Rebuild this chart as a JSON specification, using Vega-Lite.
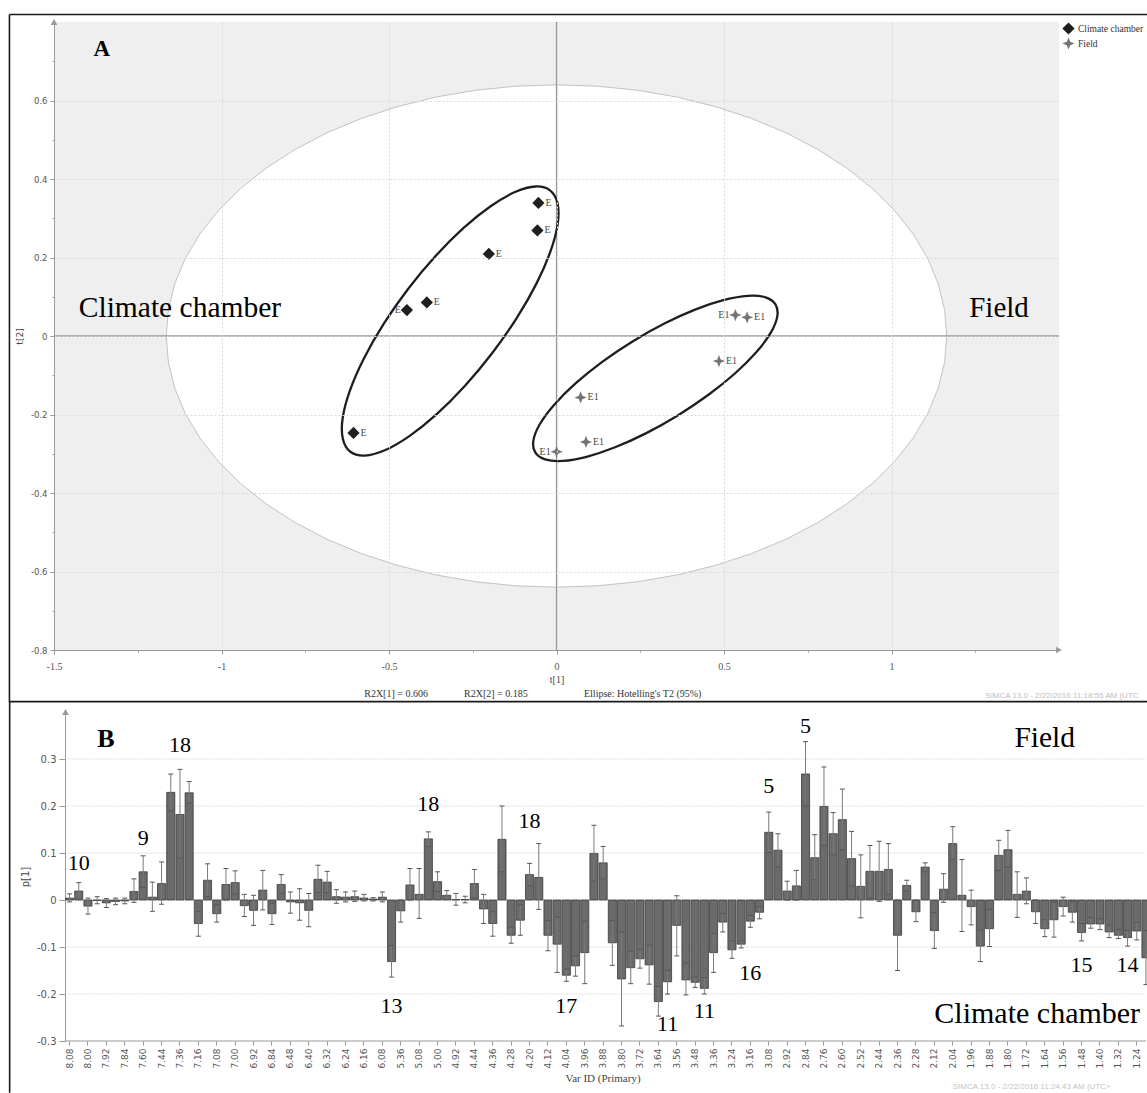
{
  "$schema": "https://vega.github.io/schema/vega-lite/v6.json",
  "background": "white",
  "padding": {"left": 8, "top": 13, "right": 0, "bottom": 0},
  "spacing": -4,
  "config": {"view": {"stroke": null}},
  "datasets": {
    "one": [{}],
    "grid": [{"g": 0.3}, {"g": 0.2}, {"g": 0.1}, {"g": 0}, {"g": -0.1}, {"g": -0.2}],
    "hot": [
      {"x": -1.165, "y": 0, "y2": 0},
      {"x": -1.1586, "y": 0.0669, "y2": -0.0669},
      {"x": -1.1395, "y": 0.1331, "y2": -0.1331},
      {"x": -1.108, "y": 0.1978, "y2": -0.1978},
      {"x": -1.0643, "y": 0.2603, "y2": -0.2603},
      {"x": -1.0089, "y": 0.32, "y2": -0.32},
      {"x": -0.9425, "y": 0.3762, "y2": -0.3762},
      {"x": -0.8657, "y": 0.4282, "y2": -0.4282},
      {"x": -0.7795, "y": 0.4756, "y2": -0.4756},
      {"x": -0.6848, "y": 0.5178, "y2": -0.5178},
      {"x": -0.5825, "y": 0.5543, "y2": -0.5543},
      {"x": -0.4738, "y": 0.5846, "y2": -0.5846},
      {"x": -0.36, "y": 0.6087, "y2": -0.6087},
      {"x": -0.2422, "y": 0.626, "y2": -0.626},
      {"x": -0.1217, "y": 0.6365, "y2": -0.6365},
      {"x": 0, "y": 0.64, "y2": -0.64},
      {"x": 0.1217, "y": 0.6365, "y2": -0.6365},
      {"x": 0.2422, "y": 0.626, "y2": -0.626},
      {"x": 0.36, "y": 0.6087, "y2": -0.6087},
      {"x": 0.4738, "y": 0.5846, "y2": -0.5846},
      {"x": 0.5825, "y": 0.5543, "y2": -0.5543},
      {"x": 0.6848, "y": 0.5178, "y2": -0.5178},
      {"x": 0.7795, "y": 0.4756, "y2": -0.4756},
      {"x": 0.8657, "y": 0.4282, "y2": -0.4282},
      {"x": 0.9425, "y": 0.3762, "y2": -0.3762},
      {"x": 1.0089, "y": 0.32, "y2": -0.32},
      {"x": 1.0643, "y": 0.2603, "y2": -0.2603},
      {"x": 1.108, "y": 0.1978, "y2": -0.1978},
      {"x": 1.1395, "y": 0.1331, "y2": -0.1331},
      {"x": 1.1586, "y": 0.0669, "y2": -0.0669},
      {"x": 1.165, "y": 0, "y2": 0}
    ],
    "ell": [
      {"grp": "Climate chamber", "t": 0, "x": -0.0194, "y": 0.3712},
      {"grp": "Climate chamber", "t": 15, "x": 0.0029, "y": 0.3387},
      {"grp": "Climate chamber", "t": 30, "x": 0.0036, "y": 0.2858},
      {"grp": "Climate chamber", "t": 45, "x": -0.0178, "y": 0.216},
      {"grp": "Climate chamber", "t": 60, "x": -0.0595, "y": 0.1341},
      {"grp": "Climate chamber", "t": 75, "x": -0.1189, "y": 0.0456},
      {"grp": "Climate chamber", "t": 90, "x": -0.1917, "y": -0.0434},
      {"grp": "Climate chamber", "t": 105, "x": -0.2731, "y": -0.1268},
      {"grp": "Climate chamber", "t": 120, "x": -0.3575, "y": -0.1991},
      {"grp": "Climate chamber", "t": 135, "x": -0.4392, "y": -0.255},
      {"grp": "Climate chamber", "t": 150, "x": -0.5126, "y": -0.2912},
      {"grp": "Climate chamber", "t": 165, "x": -0.5727, "y": -0.3047},
      {"grp": "Climate chamber", "t": 180, "x": -0.6154, "y": -0.295},
      {"grp": "Climate chamber", "t": 195, "x": -0.6377, "y": -0.2625},
      {"grp": "Climate chamber", "t": 210, "x": -0.6384, "y": -0.2096},
      {"grp": "Climate chamber", "t": 225, "x": -0.617, "y": -0.1398},
      {"grp": "Climate chamber", "t": 240, "x": -0.5753, "y": -0.0579},
      {"grp": "Climate chamber", "t": 255, "x": -0.5159, "y": 0.0306},
      {"grp": "Climate chamber", "t": 270, "x": -0.4431, "y": 0.1196},
      {"grp": "Climate chamber", "t": 285, "x": -0.3617, "y": 0.203},
      {"grp": "Climate chamber", "t": 300, "x": -0.2773, "y": 0.2753},
      {"grp": "Climate chamber", "t": 315, "x": -0.1956, "y": 0.3312},
      {"grp": "Climate chamber", "t": 330, "x": -0.1222, "y": 0.3674},
      {"grp": "Climate chamber", "t": 345, "x": -0.0621, "y": 0.3809},
      {"grp": "Field", "t": 0, "x": 0.6537, "y": 0.0807},
      {"grp": "Field", "t": 15, "x": 0.6591, "y": 0.05},
      {"grp": "Field", "t": 30, "x": 0.6397, "y": 0.0084},
      {"grp": "Field", "t": 45, "x": 0.5969, "y": -0.0409},
      {"grp": "Field", "t": 60, "x": 0.5334, "y": -0.0949},
      {"grp": "Field", "t": 75, "x": 0.4537, "y": -0.1498},
      {"grp": "Field", "t": 90, "x": 0.3632, "y": -0.2018},
      {"grp": "Field", "t": 105, "x": 0.2681, "y": -0.2474},
      {"grp": "Field", "t": 120, "x": 0.1748, "y": -0.2835},
      {"grp": "Field", "t": 135, "x": 0.0897, "y": -0.3077},
      {"grp": "Field", "t": 150, "x": 0.0187, "y": -0.3182},
      {"grp": "Field", "t": 165, "x": -0.0337, "y": -0.3144},
      {"grp": "Field", "t": 180, "x": -0.0635, "y": -0.2965},
      {"grp": "Field", "t": 195, "x": -0.0689, "y": -0.2658},
      {"grp": "Field", "t": 210, "x": -0.0495, "y": -0.2242},
      {"grp": "Field", "t": 225, "x": -0.0067, "y": -0.1749},
      {"grp": "Field", "t": 240, "x": 0.0568, "y": -0.1209},
      {"grp": "Field", "t": 255, "x": 0.1365, "y": -0.066},
      {"grp": "Field", "t": 270, "x": 0.227, "y": -0.014},
      {"grp": "Field", "t": 285, "x": 0.3221, "y": 0.0316},
      {"grp": "Field", "t": 300, "x": 0.4154, "y": 0.0677},
      {"grp": "Field", "t": 315, "x": 0.5005, "y": 0.0919},
      {"grp": "Field", "t": 330, "x": 0.5715, "y": 0.1024},
      {"grp": "Field", "t": 345, "x": 0.6239, "y": 0.0986}
    ],
    "pts": [
      {"grp": "Climate chamber", "x": -0.054, "y": 0.339, "lab": "E", "side": "r"},
      {"grp": "Climate chamber", "x": -0.057, "y": 0.269, "lab": "E", "side": "r"},
      {"grp": "Climate chamber", "x": -0.202, "y": 0.209, "lab": "E", "side": "r"},
      {"grp": "Climate chamber", "x": -0.387, "y": 0.0855, "lab": "E", "side": "r"},
      {"grp": "Climate chamber", "x": -0.4465, "y": 0.066, "lab": "E", "side": "l"},
      {"grp": "Climate chamber", "x": -0.606, "y": -0.247, "lab": "E", "side": "r"},
      {"grp": "Field", "x": 0.534, "y": 0.0533, "lab": "E1", "side": "l"},
      {"grp": "Field", "x": 0.569, "y": 0.0475, "lab": "E1", "side": "r"},
      {"grp": "Field", "x": 0.485, "y": -0.064, "lab": "E1", "side": "r"},
      {"grp": "Field", "x": 0.072, "y": -0.1566, "lab": "E1", "side": "r"},
      {"grp": "Field", "x": 0.088, "y": -0.27, "lab": "E1", "side": "r"},
      {"grp": "Field", "x": 0.0006, "y": -0.295, "lab": "E1", "side": "l"}
    ],
    "bars": [
      {"id": "8.08", "v": 0.004, "lo": -0.004, "hi": 0.013},
      {"id": "8.04", "v": 0.019, "lo": 0.002, "hi": 0.037},
      {"id": "8.00", "v": -0.013, "lo": -0.03, "hi": 0.004},
      {"id": "7.96", "v": -0.001, "lo": -0.008, "hi": 0.007},
      {"id": "7.92", "v": -0.006, "lo": -0.016, "hi": 0.003},
      {"id": "7.88", "v": -0.003, "lo": -0.01, "hi": 0.004},
      {"id": "7.84", "v": -0.002, "lo": -0.008, "hi": 0.004},
      {"id": "7.68", "v": 0.018, "lo": -0.005, "hi": 0.045},
      {"id": "7.60", "v": 0.06, "lo": 0.027, "hi": 0.094},
      {"id": "7.52", "v": 0.006, "lo": -0.024, "hi": 0.038},
      {"id": "7.44", "v": 0.035, "lo": -0.009, "hi": 0.081},
      {"id": "7.40", "v": 0.229, "lo": 0.19, "hi": 0.268},
      {"id": "7.36", "v": 0.182, "lo": 0.089, "hi": 0.278},
      {"id": "7.28", "v": 0.228, "lo": 0.206, "hi": 0.252},
      {"id": "7.16", "v": -0.05, "lo": -0.077, "hi": -0.025},
      {"id": "7.12", "v": 0.042, "lo": 0.007, "hi": 0.077},
      {"id": "7.08", "v": -0.029, "lo": -0.047, "hi": -0.01},
      {"id": "7.04", "v": 0.033, "lo": 0.0, "hi": 0.067},
      {"id": "7.00", "v": 0.037, "lo": 0.013, "hi": 0.062},
      {"id": "6.96", "v": -0.012, "lo": -0.035, "hi": 0.012},
      {"id": "6.92", "v": -0.022, "lo": -0.054, "hi": 0.01},
      {"id": "6.88", "v": 0.021, "lo": -0.021, "hi": 0.063},
      {"id": "6.84", "v": -0.029, "lo": -0.052, "hi": -0.007},
      {"id": "6.56", "v": 0.033, "lo": 0.014, "hi": 0.054},
      {"id": "6.48", "v": -0.004, "lo": -0.028, "hi": 0.017},
      {"id": "6.44", "v": -0.006, "lo": -0.043, "hi": 0.024},
      {"id": "6.40", "v": -0.022, "lo": -0.057, "hi": 0.014},
      {"id": "6.36", "v": 0.044, "lo": 0.016, "hi": 0.074},
      {"id": "6.32", "v": 0.038, "lo": 0.016, "hi": 0.061},
      {"id": "6.28", "v": 0.007, "lo": -0.007, "hi": 0.022},
      {"id": "6.24", "v": 0.006, "lo": -0.004, "hi": 0.017},
      {"id": "6.20", "v": 0.007, "lo": -0.003, "hi": 0.019},
      {"id": "6.16", "v": 0.004, "lo": -0.002, "hi": 0.012},
      {"id": "6.12", "v": 0.002, "lo": -0.002, "hi": 0.005},
      {"id": "6.08", "v": 0.006, "lo": -0.004, "hi": 0.017},
      {"id": "5.40", "v": -0.131, "lo": -0.164, "hi": -0.097},
      {"id": "5.36", "v": -0.023, "lo": -0.047, "hi": 0.0},
      {"id": "5.20", "v": 0.032, "lo": 0.0, "hi": 0.067},
      {"id": "5.08", "v": 0.012, "lo": -0.039, "hi": 0.067},
      {"id": "5.04", "v": 0.13, "lo": 0.114, "hi": 0.145},
      {"id": "5.00", "v": 0.039, "lo": 0.018, "hi": 0.06},
      {"id": "4.96", "v": 0.01, "lo": 0.001, "hi": 0.02},
      {"id": "4.92", "v": 0.001, "lo": -0.011, "hi": 0.014},
      {"id": "4.48", "v": 0.001, "lo": -0.006, "hi": 0.008},
      {"id": "4.44", "v": 0.035, "lo": 0.005, "hi": 0.065},
      {"id": "4.40", "v": -0.019, "lo": -0.05, "hi": 0.012},
      {"id": "4.36", "v": -0.05, "lo": -0.077, "hi": -0.025},
      {"id": "4.32", "v": 0.129, "lo": 0.06, "hi": 0.2},
      {"id": "4.28", "v": -0.075, "lo": -0.092, "hi": -0.058},
      {"id": "4.24", "v": -0.043, "lo": -0.075, "hi": -0.01},
      {"id": "4.20", "v": 0.054, "lo": 0.03, "hi": 0.078},
      {"id": "4.16", "v": 0.048, "lo": -0.02, "hi": 0.12},
      {"id": "4.12", "v": -0.075, "lo": -0.108, "hi": -0.044},
      {"id": "4.08", "v": -0.094, "lo": -0.154, "hi": -0.036},
      {"id": "4.04", "v": -0.16, "lo": -0.173, "hi": -0.147},
      {"id": "4.00", "v": -0.14, "lo": -0.162, "hi": -0.119},
      {"id": "3.96", "v": -0.112, "lo": -0.178, "hi": -0.045},
      {"id": "3.92", "v": 0.099, "lo": 0.04, "hi": 0.159},
      {"id": "3.88", "v": 0.079, "lo": 0.045, "hi": 0.114},
      {"id": "3.84", "v": -0.091, "lo": -0.139, "hi": -0.044},
      {"id": "3.80", "v": -0.168, "lo": -0.268, "hi": -0.068},
      {"id": "3.76", "v": -0.144, "lo": -0.178, "hi": -0.109},
      {"id": "3.72", "v": -0.125, "lo": -0.145, "hi": -0.105},
      {"id": "3.68", "v": -0.138, "lo": -0.179, "hi": -0.096},
      {"id": "3.64", "v": -0.216, "lo": -0.247, "hi": -0.184},
      {"id": "3.60", "v": -0.174, "lo": -0.2, "hi": -0.15},
      {"id": "3.56", "v": -0.054, "lo": -0.119, "hi": 0.009},
      {"id": "3.52", "v": -0.17, "lo": -0.202, "hi": -0.134},
      {"id": "3.48", "v": -0.175, "lo": -0.186, "hi": -0.164},
      {"id": "3.40", "v": -0.188, "lo": -0.2, "hi": -0.165},
      {"id": "3.36", "v": -0.112, "lo": -0.154, "hi": -0.071},
      {"id": "3.32", "v": -0.047, "lo": -0.068, "hi": -0.029},
      {"id": "3.24", "v": -0.106, "lo": -0.124, "hi": -0.087},
      {"id": "3.20", "v": -0.094, "lo": -0.102, "hi": -0.087},
      {"id": "3.16", "v": -0.045, "lo": -0.058, "hi": -0.033},
      {"id": "3.12", "v": -0.026, "lo": -0.04, "hi": -0.014},
      {"id": "3.08", "v": 0.144, "lo": 0.101, "hi": 0.187},
      {"id": "3.00", "v": 0.106, "lo": 0.07, "hi": 0.141},
      {"id": "2.92", "v": 0.019, "lo": 0.0, "hi": 0.04},
      {"id": "2.88", "v": 0.03, "lo": 0.0, "hi": 0.063},
      {"id": "2.84", "v": 0.268, "lo": 0.2, "hi": 0.337},
      {"id": "2.80", "v": 0.09, "lo": 0.043, "hi": 0.139},
      {"id": "2.76", "v": 0.199, "lo": 0.116, "hi": 0.283},
      {"id": "2.68", "v": 0.141, "lo": 0.096, "hi": 0.186},
      {"id": "2.60", "v": 0.171, "lo": 0.107, "hi": 0.236},
      {"id": "2.56", "v": 0.088, "lo": 0.03, "hi": 0.146},
      {"id": "2.52", "v": 0.029, "lo": -0.038, "hi": 0.096},
      {"id": "2.48", "v": 0.061, "lo": 0.005, "hi": 0.116},
      {"id": "2.44", "v": 0.061, "lo": -0.003, "hi": 0.125},
      {"id": "2.40", "v": 0.065, "lo": 0.012, "hi": 0.12},
      {"id": "2.36", "v": -0.075, "lo": -0.15, "hi": 0.0},
      {"id": "2.32", "v": 0.031, "lo": 0.019, "hi": 0.042},
      {"id": "2.28", "v": -0.025, "lo": -0.046, "hi": 0.0},
      {"id": "2.20", "v": 0.07, "lo": 0.06, "hi": 0.079},
      {"id": "2.12", "v": -0.065, "lo": -0.103, "hi": -0.027},
      {"id": "2.08", "v": 0.023, "lo": -0.005, "hi": 0.056},
      {"id": "2.04", "v": 0.12, "lo": 0.087, "hi": 0.156},
      {"id": "2.00", "v": 0.01, "lo": -0.067, "hi": 0.086},
      {"id": "1.96", "v": -0.014, "lo": -0.053, "hi": 0.021},
      {"id": "1.92", "v": -0.098, "lo": -0.131, "hi": -0.064},
      {"id": "1.88", "v": -0.061, "lo": -0.099, "hi": -0.02},
      {"id": "1.84", "v": 0.095, "lo": 0.063, "hi": 0.127},
      {"id": "1.80", "v": 0.107, "lo": 0.07, "hi": 0.148},
      {"id": "1.76", "v": 0.012, "lo": -0.037, "hi": 0.06},
      {"id": "1.72", "v": 0.019, "lo": -0.008, "hi": 0.047},
      {"id": "1.68", "v": -0.025, "lo": -0.05, "hi": 0.0},
      {"id": "1.64", "v": -0.061, "lo": -0.078, "hi": -0.042},
      {"id": "1.60", "v": -0.042, "lo": -0.079, "hi": -0.005},
      {"id": "1.56", "v": -0.014, "lo": -0.034, "hi": 0.006},
      {"id": "1.52", "v": -0.026, "lo": -0.047, "hi": -0.004},
      {"id": "1.48", "v": -0.069, "lo": -0.087, "hi": -0.05},
      {"id": "1.44", "v": -0.051, "lo": -0.06, "hi": -0.037},
      {"id": "1.40", "v": -0.051, "lo": -0.063, "hi": -0.04},
      {"id": "1.36", "v": -0.068, "lo": -0.08, "hi": -0.053},
      {"id": "1.32", "v": -0.075, "lo": -0.082, "hi": -0.063},
      {"id": "1.28", "v": -0.08, "lo": -0.098, "hi": -0.065},
      {"id": "1.24", "v": -0.066, "lo": -0.085, "hi": -0.048},
      {"id": "1.20", "v": -0.123, "lo": -0.18, "hi": -0.065}
    ]
  },
  "vconcat": [
    {
      "width": 1005,
      "height": 628,
      "view": {"fill": "#efefef", "stroke": null},
      "layer": [
        {
          "data": {"name": "hot"},
          "mark": {"type": "area", "fill": "#ffffff", "stroke": "#c2c2c2", "strokeWidth": 1, "interpolate": "linear"},
          "encoding": {
            "x": {
              "field": "x", "type": "quantitative",
              "scale": {"domain": [-1.5, 1.5], "nice": false, "zero": false},
              "axis": {
                "title": "t[1]",
                "values": [-1.5, -1.25, -1, -0.75, -0.5, -0.25, 0, 0.25, 0.5, 0.75, 1, 1.25],
                "labelExpr": "abs(datum.value*2-round(datum.value*2))>0.01 ? '' : (datum.value < 0 ? '-' : '') + format(abs(datum.value), '.1~f')",
                "labelOverlap": false,
                "labelFlush": false,
                "grid": true,
                "gridColor": "#d8d8d8",
                "gridDash": [2, 2],
                "gridOpacity": {"condition": {"test": "abs(datum.value*2-round(datum.value*2))>0.01", "value": 0}, "value": 1},
                "tickSize": {"condition": {"test": "abs(datum.value*2-round(datum.value*2))>0.01", "value": 2}, "value": 4},
                "tickColor": "#999999",
                "domainColor": "#999999",
                "labelFont": "Liberation Serif",
                "labelFontSize": 10,
                "labelColor": "#555555",
                "labelPadding": 7,
                "titleFont": "Liberation Serif",
                "titleFontSize": 10,
                "titleFontWeight": "normal",
                "titleColor": "#444444",
                "titlePadding": 3,
                "zindex": 1
              }
            },
            "y": {
              "field": "y", "type": "quantitative",
              "scale": {"domain": [-0.8, 0.8], "nice": false, "zero": false},
              "axis": {
                "title": "t[2]",
                "values": [-0.8, -0.7, -0.6, -0.5, -0.4, -0.3, -0.2, -0.1, 0, 0.1, 0.2, 0.3, 0.4, 0.5, 0.6, 0.7],
                "labelExpr": "abs(datum.value*5-round(datum.value*5))>0.01 ? '' : (datum.value < 0 ? '-' : '') + format(abs(datum.value), '.1~f')",
                "labelOverlap": false,
                "labelFlush": false,
                "grid": true,
                "gridColor": "#d8d8d8",
                "gridDash": [2, 2],
                "gridOpacity": {"condition": {"test": "abs(datum.value*5-round(datum.value*5))>0.01", "value": 0}, "value": 1},
                "tickSize": {"condition": {"test": "abs(datum.value*5-round(datum.value*5))>0.01", "value": 2}, "value": 4},
                "tickColor": "#999999",
                "domainColor": "#999999",
                "labelFont": "DejaVu Sans",
                "labelFontSize": 8.5,
                "labelColor": "#555555",
                "labelPadding": 3,
                "titleFont": "DejaVu Sans",
                "titleFontSize": 9,
                "titleFontWeight": "normal",
                "titleColor": "#444444",
                "titlePadding": 6,
                "zindex": 1
              }
            },
            "y2": {"field": "y2"}
          }
        },
        {
          "data": {"name": "one"},
          "mark": {"type": "rule", "color": "#9a9a9a", "strokeWidth": 1.3},
          "encoding": {"x": {"datum": 0, "type": "quantitative"}}
        },
        {
          "data": {"name": "one"},
          "mark": {"type": "rule", "color": "#9a9a9a", "strokeWidth": 1.3},
          "encoding": {"y": {"datum": 0, "type": "quantitative"}}
        },
        {
          "data": {"name": "one"},
          "mark": {"type": "rule", "color": "#1a1a1a", "strokeWidth": 1.6},
          "encoding": {"x": {"datum": -1.633, "type": "quantitative"}, "x2": {"datum": 1.78}, "y": {"datum": 0.819, "type": "quantitative"}}
        },
        {
          "data": {"name": "one"},
          "mark": {"type": "rule", "color": "#1a1a1a", "strokeWidth": 1.6},
          "encoding": {"x": {"datum": -1.633, "type": "quantitative"}, "y": {"datum": 0.819, "type": "quantitative"}, "y2": {"datum": -0.933}}
        },
        {
          "data": {"name": "ell"},
          "mark": {"type": "line", "color": "#1e1e1e", "strokeWidth": 2.3, "interpolate": "cardinal-closed"},
          "encoding": {
            "x": {"field": "x", "type": "quantitative"},
            "y": {"field": "y", "type": "quantitative"},
            "detail": {"field": "grp"},
            "order": {"field": "t", "type": "quantitative"}
          }
        },
        {
          "data": {"name": "pts"},
          "mark": {"type": "point", "filled": true, "size": 150, "opacity": 1},
          "encoding": {
            "x": {"field": "x", "type": "quantitative"},
            "y": {"field": "y", "type": "quantitative"},
            "color": {
              "field": "grp", "type": "nominal",
              "scale": {"domain": ["Climate chamber", "Field"], "range": ["#1f1f1f", "#737373"]},
              "legend": {
                "title": null,
                "orient": "none",
                "legendX": 1008,
                "legendY": 0,
                "padding": 0,
                "symbolType": "square",
                "symbolSize": 150,
                "symbolStrokeWidth": 0,
                "symbolOpacity": 1,
                "labelFont": "Liberation Serif",
                "labelFontSize": 9.5,
                "labelColor": "#333333",
                "labelOffset": 3,
                "rowPadding": 2
              }
            },
            "shape": {
              "field": "grp", "type": "nominal",
              "scale": {"domain": ["Climate chamber", "Field"], "range": ["diamond", "M0,-1L0.28,-0.28L1,0L0.28,0.28L0,1L-0.28,0.28L-1,0L-0.28,-0.28Z"]},
              "legend": null
            }
          }
        },
        {
          "data": {"name": "pts"},
          "transform": [{"filter": "datum.side == 'r'"}],
          "mark": {"type": "text", "align": "left", "baseline": "middle", "dx": 7, "font": "Liberation Serif", "fontSize": 10, "color": "#4a4a4a"},
          "encoding": {
            "x": {"field": "x", "type": "quantitative"},
            "y": {"field": "y", "type": "quantitative"},
            "text": {"field": "lab"}
          }
        },
        {
          "data": {"name": "pts"},
          "transform": [{"filter": "datum.side == 'l'"}],
          "mark": {"type": "text", "align": "right", "baseline": "middle", "dx": -6, "font": "Liberation Serif", "fontSize": 10, "color": "#4a4a4a"},
          "encoding": {
            "x": {"field": "x", "type": "quantitative"},
            "y": {"field": "y", "type": "quantitative"},
            "text": {"field": "lab"}
          }
        },
        {
          "data": {"name": "one"},
          "mark": {"type": "point", "shape": "triangle-up", "filled": true, "color": "#999999", "size": 45, "opacity": 1},
          "encoding": {"x": {"datum": -1.5, "type": "quantitative"}, "y": {"datum": 0.8, "type": "quantitative"}}
        },
        {
          "data": {"name": "one"},
          "mark": {"type": "point", "shape": "triangle-right", "filled": true, "color": "#999999", "size": 45, "opacity": 1},
          "encoding": {"x": {"datum": 1.5, "type": "quantitative"}, "y": {"datum": -0.8, "type": "quantitative"}}
        },
        {
          "data": {"name": "one"},
          "mark": {"type": "text", "text": "A", "align": "left", "baseline": "alphabetic", "font": "Liberation Serif", "fontSize": 23, "fontWeight": "bold", "color": "#000000"},
          "encoding": {"x": {"datum": -1.382, "type": "quantitative"}, "y": {"datum": 0.713, "type": "quantitative"}}
        },
        {
          "data": {"name": "one"},
          "mark": {"type": "text", "text": "Climate chamber", "align": "left", "baseline": "alphabetic", "font": "Liberation Serif", "fontSize": 29.5, "color": "#000000"},
          "encoding": {"x": {"datum": -1.426, "type": "quantitative"}, "y": {"datum": 0.048, "type": "quantitative"}}
        },
        {
          "data": {"name": "one"},
          "mark": {"type": "text", "text": "Field", "align": "left", "baseline": "alphabetic", "font": "Liberation Serif", "fontSize": 29, "color": "#000000"},
          "encoding": {"x": {"datum": 1.232, "type": "quantitative"}, "y": {"datum": 0.048, "type": "quantitative"}}
        },
        {
          "data": {"name": "one"},
          "mark": {"type": "text", "text": "R2X[1] = 0.606", "align": "left", "baseline": "middle", "dy": 44, "font": "Liberation Serif", "fontSize": 10, "color": "#333333"},
          "encoding": {"x": {"datum": -0.574, "type": "quantitative"}, "y": {"datum": -0.8, "type": "quantitative"}}
        },
        {
          "data": {"name": "one"},
          "mark": {"type": "text", "text": "R2X[2] = 0.185", "align": "left", "baseline": "middle", "dy": 44, "font": "Liberation Serif", "fontSize": 10, "color": "#333333"},
          "encoding": {"x": {"datum": -0.276, "type": "quantitative"}, "y": {"datum": -0.8, "type": "quantitative"}}
        },
        {
          "data": {"name": "one"},
          "mark": {"type": "text", "text": "Ellipse: Hotelling's T2 (95%)", "align": "left", "baseline": "middle", "dy": 44, "font": "Liberation Serif", "fontSize": 10, "color": "#333333"},
          "encoding": {"x": {"datum": 0.082, "type": "quantitative"}, "y": {"datum": -0.8, "type": "quantitative"}}
        },
        {
          "data": {"name": "one"},
          "mark": {"type": "text", "text": "SIMCA 13.0 - 2/22/2016 11:18:55 AM (UTC", "align": "left", "baseline": "middle", "dy": 46, "font": "Liberation Sans", "fontSize": 8, "color": "#bdbdbd"},
          "encoding": {"x": {"datum": 1.28, "type": "quantitative"}, "y": {"datum": -0.8, "type": "quantitative"}}
        }
      ]
    },
    {
      "width": 1097,
      "height": 329,
      "layer": [
        {
          "data": {"name": "grid"},
          "mark": {"type": "rule", "color": "#dedede", "strokeWidth": 1, "strokeDash": [2, 1]},
          "encoding": {
            "x": {
              "datum": "8.08", "type": "nominal", "bandPosition": 0,
              "scale": {
                "domain": ["8.08","8.04","8.00","7.96","7.92","7.88","7.84","7.68","7.60","7.52","7.44","7.40","7.36","7.28","7.16","7.12","7.08","7.04","7.00","6.96","6.92","6.88","6.84","6.56","6.48","6.44","6.40","6.36","6.32","6.28","6.24","6.20","6.16","6.12","6.08","5.40","5.36","5.20","5.08","5.04","5.00","4.96","4.92","4.48","4.44","4.40","4.36","4.32","4.28","4.24","4.20","4.16","4.12","4.08","4.04","4.00","3.96","3.92","3.88","3.84","3.80","3.76","3.72","3.68","3.64","3.60","3.56","3.52","3.48","3.40","3.36","3.32","3.24","3.20","3.16","3.12","3.08","3.00","2.92","2.88","2.84","2.80","2.76","2.68","2.60","2.56","2.52","2.48","2.44","2.40","2.36","2.32","2.28","2.20","2.12","2.08","2.04","2.00","1.96","1.92","1.88","1.84","1.80","1.76","1.72","1.68","1.64","1.60","1.56","1.52","1.48","1.44","1.40","1.36","1.32","1.28","1.24","1.20"],
                "paddingInner": 0.12,
                "paddingOuter": 0.68,
                "align": 0.92
              },
              "axis": {
                "title": "Var ID (Primary)",
                "values": ["8.08","8.00","7.92","7.84","7.60","7.44","7.36","7.16","7.08","7.00","6.92","6.84","6.48","6.40","6.32","6.24","6.16","6.08","5.36","5.08","5.00","4.92","4.44","4.36","4.28","4.20","4.12","4.04","3.96","3.88","3.80","3.72","3.64","3.56","3.48","3.36","3.24","3.16","3.08","2.92","2.84","2.76","2.60","2.52","2.44","2.36","2.28","2.12","2.04","1.96","1.88","1.80","1.72","1.64","1.56","1.48","1.40","1.32","1.24"],
                "domain": false,
                "labelAngle": 270,
                "labelOverlap": false,
                "labelFont": "DejaVu Sans",
                "labelFontSize": 9,
                "labelColor": "#555555",
                "labelPadding": 3,
                "tickSize": 4,
                "tickColor": "#999999",
                "titleFont": "Liberation Serif",
                "titleFontSize": 11,
                "titleFontWeight": "normal",
                "titleColor": "#444444",
                "titlePadding": 4
              }
            },
            "x2": {"datum": "1.20"},
            "y": {
              "field": "g", "type": "quantitative",
              "scale": {"domain": [-0.3, 0.4], "nice": false},
              "axis": {
                "title": "p[1]",
                "offset": -11,
                "values": [-0.3, -0.25, -0.2, -0.15, -0.1, -0.05, 0, 0.05, 0.1, 0.15, 0.2, 0.25, 0.3, 0.35],
                "labelExpr": "abs(datum.value*10-round(datum.value*10))>0.01 ? '' : (datum.value < 0 ? '-' : '') + format(abs(datum.value), '.1~f')",
                "labelOverlap": false,
                "labelFlush": false,
                "grid": false,
                "tickSize": {"condition": {"test": "abs(datum.value*10-round(datum.value*10))>0.01", "value": 3}, "value": 6},
                "tickColor": "#999999",
                "domainColor": "#999999",
                "labelFont": "DejaVu Sans",
                "labelFontSize": 10,
                "labelColor": "#555555",
                "labelPadding": 3,
                "titleFont": "DejaVu Sans",
                "titleFontSize": 10,
                "titleFontWeight": "normal",
                "titleColor": "#444444",
                "titlePadding": 6
              }
            }
          }
        },
        {
          "data": {"name": "one"},
          "mark": {"type": "rule", "color": "#999999", "strokeWidth": 1},
          "encoding": {
            "x": {"datum": "8.08", "type": "nominal", "bandPosition": 0},
            "x2": {"datum": "1.20"},
            "y": {"datum": -0.3, "type": "quantitative"}
          }
        },
        {
          "data": {"name": "one"},
          "mark": {"type": "rule", "color": "#1a1a1a", "strokeWidth": 1.6},
          "encoding": {
            "x": {"datum": "8.08", "type": "nominal", "bandPosition": -6.9},
            "x2": {"datum": "1.20", "bandPosition": 1.1},
            "y": {"datum": 0.422, "type": "quantitative"}
          }
        },
        {
          "data": {"name": "one"},
          "mark": {"type": "rule", "color": "#1a1a1a", "strokeWidth": 1.6},
          "encoding": {
            "x": {"datum": "8.08", "type": "nominal", "bandPosition": -6.9},
            "y": {"datum": 0.422, "type": "quantitative"},
            "y2": {"datum": -0.41}
          }
        },
        {
          "data": {"name": "bars"},
          "mark": {"type": "bar", "fill": "#6b6b6b", "stroke": "#3a3a3a", "strokeWidth": 0.8},
          "encoding": {
            "x": {"field": "id", "type": "nominal", "sort": null},
            "y": {"field": "v", "type": "quantitative"}
          }
        },
        {
          "data": {"name": "bars"},
          "mark": {"type": "rule", "color": "#7a7a7a", "strokeWidth": 1},
          "encoding": {
            "x": {"field": "id", "type": "nominal"},
            "y": {"field": "lo", "type": "quantitative"},
            "y2": {"field": "hi"}
          }
        },
        {
          "data": {"name": "bars"},
          "mark": {"type": "tick", "color": "#555555", "thickness": 1, "size": 5, "opacity": 1},
          "encoding": {
            "x": {"field": "id", "type": "nominal"},
            "y": {"field": "lo", "type": "quantitative"}
          }
        },
        {
          "data": {"name": "bars"},
          "mark": {"type": "tick", "color": "#555555", "thickness": 1, "size": 5, "opacity": 1},
          "encoding": {
            "x": {"field": "id", "type": "nominal"},
            "y": {"field": "hi", "type": "quantitative"}
          }
        },
        {
          "data": {"name": "one"},
          "mark": {"type": "point", "shape": "triangle-up", "filled": true, "color": "#999999", "size": 45, "opacity": 1},
          "encoding": {"x": {"datum": "8.08", "type": "nominal", "bandPosition": 0}, "y": {"datum": 0.4, "type": "quantitative"}}
        },
        {
          "data": {"name": "one"},
          "mark": {"type": "text", "text": "B", "align": "left", "baseline": "alphabetic", "font": "Liberation Serif", "fontSize": 26, "fontWeight": "bold", "color": "#000000"},
          "encoding": {"x": {"datum": "7.96", "type": "nominal"}, "y": {"datum": 0.326, "type": "quantitative"}}
        },
        {
          "data": {"name": "one"},
          "mark": {"type": "text", "text": "10", "align": "center", "baseline": "alphabetic", "font": "Liberation Serif", "fontSize": 22, "color": "#000000"},
          "encoding": {"x": {"datum": "8.04", "type": "nominal"}, "y": {"datum": 0.064, "type": "quantitative"}}
        },
        {
          "data": {"name": "one"},
          "mark": {"type": "text", "text": "9", "align": "center", "baseline": "alphabetic", "font": "Liberation Serif", "fontSize": 22, "color": "#000000"},
          "encoding": {"x": {"datum": "7.60", "type": "nominal"}, "y": {"datum": 0.117, "type": "quantitative"}}
        },
        {
          "data": {"name": "one"},
          "mark": {"type": "text", "text": "18", "align": "center", "baseline": "alphabetic", "font": "Liberation Serif", "fontSize": 22, "color": "#000000"},
          "encoding": {"x": {"datum": "7.36", "type": "nominal"}, "y": {"datum": 0.3155, "type": "quantitative"}}
        },
        {
          "data": {"name": "one"},
          "mark": {"type": "text", "text": "13", "align": "center", "baseline": "alphabetic", "font": "Liberation Serif", "fontSize": 22, "color": "#000000"},
          "encoding": {"x": {"datum": "5.40", "type": "nominal"}, "y": {"datum": -0.24, "type": "quantitative"}}
        },
        {
          "data": {"name": "one"},
          "mark": {"type": "text", "text": "18", "align": "center", "baseline": "alphabetic", "font": "Liberation Serif", "fontSize": 22, "color": "#000000"},
          "encoding": {"x": {"datum": "5.04", "type": "nominal"}, "y": {"datum": 0.19, "type": "quantitative"}}
        },
        {
          "data": {"name": "one"},
          "mark": {"type": "text", "text": "18", "align": "center", "baseline": "alphabetic", "font": "Liberation Serif", "fontSize": 22, "color": "#000000"},
          "encoding": {"x": {"datum": "4.20", "type": "nominal"}, "y": {"datum": 0.1525, "type": "quantitative"}}
        },
        {
          "data": {"name": "one"},
          "mark": {"type": "text", "text": "17", "align": "center", "baseline": "alphabetic", "font": "Liberation Serif", "fontSize": 22, "color": "#000000"},
          "encoding": {"x": {"datum": "4.04", "type": "nominal"}, "y": {"datum": -0.241, "type": "quantitative"}}
        },
        {
          "data": {"name": "one"},
          "mark": {"type": "text", "text": "11", "align": "center", "baseline": "alphabetic", "font": "Liberation Serif", "fontSize": 22, "color": "#000000"},
          "encoding": {"x": {"datum": "3.60", "type": "nominal"}, "y": {"datum": -0.278, "type": "quantitative"}}
        },
        {
          "data": {"name": "one"},
          "mark": {"type": "text", "text": "11", "align": "center", "baseline": "alphabetic", "font": "Liberation Serif", "fontSize": 22, "color": "#000000"},
          "encoding": {"x": {"datum": "3.40", "type": "nominal"}, "y": {"datum": -0.252, "type": "quantitative"}}
        },
        {
          "data": {"name": "one"},
          "mark": {"type": "text", "text": "16", "align": "center", "baseline": "alphabetic", "font": "Liberation Serif", "fontSize": 22, "color": "#000000"},
          "encoding": {"x": {"datum": "3.16", "type": "nominal"}, "y": {"datum": -0.17, "type": "quantitative"}}
        },
        {
          "data": {"name": "one"},
          "mark": {"type": "text", "text": "5", "align": "center", "baseline": "alphabetic", "font": "Liberation Serif", "fontSize": 22, "color": "#000000"},
          "encoding": {"x": {"datum": "3.08", "type": "nominal"}, "y": {"datum": 0.227, "type": "quantitative"}}
        },
        {
          "data": {"name": "one"},
          "mark": {"type": "text", "text": "5", "align": "center", "baseline": "alphabetic", "font": "Liberation Serif", "fontSize": 22, "color": "#000000"},
          "encoding": {"x": {"datum": "2.84", "type": "nominal"}, "y": {"datum": 0.3546, "type": "quantitative"}}
        },
        {
          "data": {"name": "one"},
          "mark": {"type": "text", "text": "15", "align": "center", "baseline": "alphabetic", "font": "Liberation Serif", "fontSize": 22, "color": "#000000"},
          "encoding": {"x": {"datum": "1.48", "type": "nominal"}, "y": {"datum": -0.1525, "type": "quantitative"}}
        },
        {
          "data": {"name": "one"},
          "mark": {"type": "text", "text": "14", "align": "center", "baseline": "alphabetic", "font": "Liberation Serif", "fontSize": 22, "color": "#000000"},
          "encoding": {"x": {"datum": "1.28", "type": "nominal"}, "y": {"datum": -0.1525, "type": "quantitative"}}
        },
        {
          "data": {"name": "one"},
          "mark": {"type": "text", "text": "Field", "align": "center", "baseline": "alphabetic", "font": "Liberation Serif", "fontSize": 29.5, "color": "#000000"},
          "encoding": {"x": {"datum": "1.64", "type": "nominal"}, "y": {"datum": 0.326, "type": "quantitative"}}
        },
        {
          "data": {"name": "one"},
          "mark": {"type": "text", "text": "Climate chamber", "align": "left", "baseline": "alphabetic", "font": "Liberation Serif", "fontSize": 30, "color": "#000000"},
          "encoding": {"x": {"datum": "2.12", "type": "nominal"}, "y": {"datum": -0.262, "type": "quantitative"}}
        },
        {
          "data": {"name": "one"},
          "mark": {"type": "text", "text": "SIMCA 13.0 - 2/22/2016 11:24:43 AM (UTC+", "align": "left", "baseline": "middle", "dy": 46, "font": "Liberation Sans", "fontSize": 8, "color": "#c4c4c4"},
          "encoding": {"x": {"datum": "2.04", "type": "nominal"}, "y": {"datum": -0.3, "type": "quantitative"}}
        }
      ]
    }
  ]
}
